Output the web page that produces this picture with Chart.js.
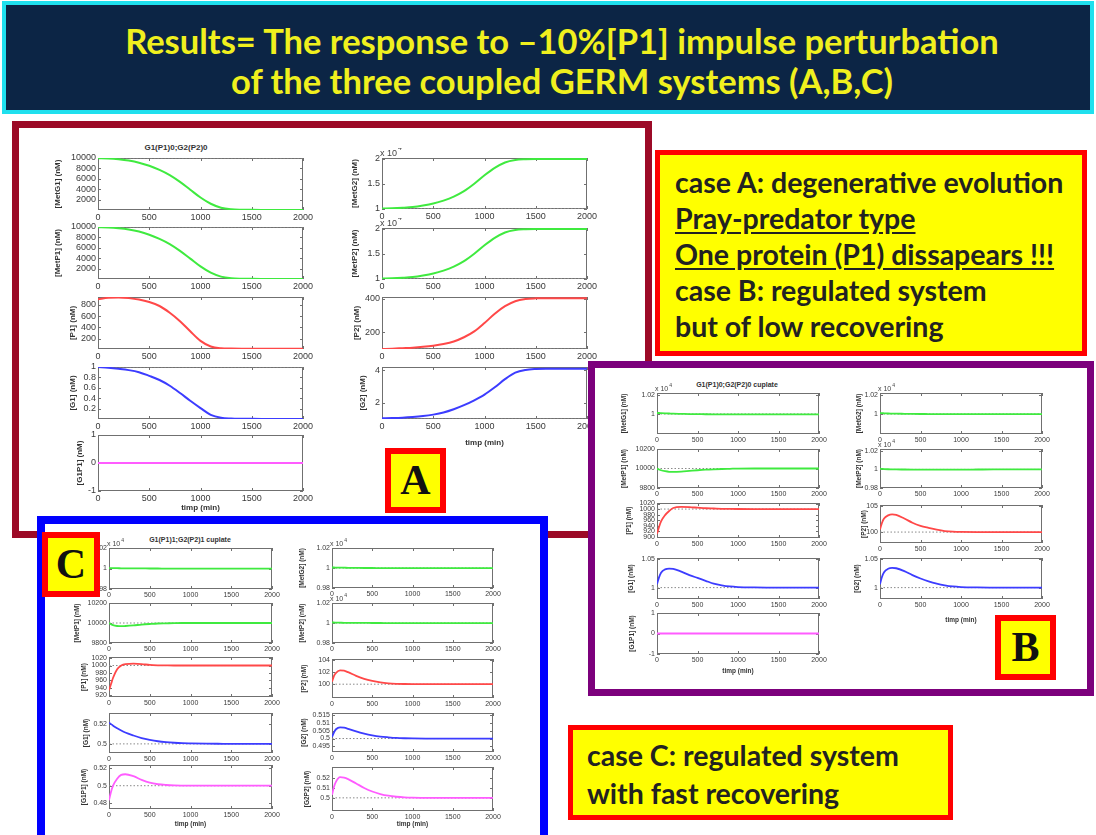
<!DOCTYPE html>
<html>
<head>
<meta charset="utf-8">
<title>GERM systems - impulse response</title>
<script src="https://cdn.jsdelivr.net/npm/chart.js"></script>
<style>
body{margin:0;width:1096px;height:835px;overflow:hidden;background:#fff;position:relative;font-family:'Liberation Sans',Arial,sans-serif}
.abs{position:absolute;box-sizing:border-box}
#banner{left:2px;top:1px;width:1092px;height:113px;background:#0c2545;border:4px solid #1fe0ee;color:#f0f01e;font:700 34.5px Lato,sans-serif;text-align:center;line-height:40px;padding:16px 0 0 28px;white-space:nowrap}
.panel{background:#fff}
.tag{background:#ffff00;border:6px solid #ff0000;font:700 42px 'Liberation Serif',serif;text-align:center;color:#111}
.note{background:#ffff00;border:5px solid #ff0000;font:700 28.5px Lato,sans-serif;color:#222;white-space:nowrap}
.note u{text-underline-offset:3px}
.ptitle{position:absolute;font-weight:700;color:#333;transform:translate(-50%,-50%);white-space:nowrap}
canvas{position:absolute}
</style>
</head>
<body>
<div id="banner" class="abs">Results= The response to –10%[P1] impulse perturbation<br>of the three coupled GERM systems (A,B,C)</div>
<script>
// time axis
const xTicks = [0, 500, 1000, 1500, 2000];
const tA = [0,100,200,300,400,500,600,700,800,900,1000,1100,1200,1300,1400,1500,1600,1700,1800,1900,2000];
const tB = [0,25,50,100,150,200,300,400,500,600,700,800,900,1000,1200,1400,1600,1800,2000];
const tFlat = [0, 2000];

// A: G1(P1)0;G2(P2)0
const aMetG1 = [9950,9900,9750,9500,9100,8500,7700,6700,5400,3900,2400,1200,450,150,60,30,20,20,20,20,20];
const aMetP1 = [9950,9900,9760,9520,9120,8520,7720,6720,5420,3920,2420,1210,460,150,60,30,20,20,20,20,20];
const aP1 = [900,925,930,920,895,850,780,660,510,330,160,60,28,22,20,20,20,20,20,20,20];
const aG1 = [1.0,0.985,0.965,0.94,0.9,0.83,0.75,0.64,0.5,0.35,0.21,0.08,0.025,0.01,0.005,0.003,0.002,0.002,0.002,0.002,0.002];
const aG1P1 = [0, 0];
const aMetG2 = [10000,10050,10150,10300,10600,11000,11600,12400,13500,15000,16700,18200,19300,19800,19950,20000,20000,20000,20000,20000,20000];
const aMetP2 = [10000,10050,10150,10300,10600,11000,11600,12400,13500,15000,16700,18200,19300,19800,19950,20000,20000,20000,20000,20000,20000];
const aP2 = [100,102,105,108,113,120,130,145,170,205,255,310,355,385,398,402,403,403,403,403,403];
const aG2 = [1.05,1.06,1.08,1.12,1.18,1.27,1.4,1.6,1.85,2.15,2.5,2.95,3.45,3.85,4.02,4.08,4.1,4.1,4.1,4.1,4.1];

// B: G1(P1)0;G2(P2)0 cuplate
const bMetG1 = [10010,10010,10009,10007,10005,10003,10001,9999,9998,9997,9996,9995,9995,9995,9995,9995,9995,9995,9995];
const bMetP1 = [10000,9990,9982,9972,9966,9965,9968,9975,9982,9988,9992,9995,9997,9999,10000,10000,10000,10000,10000];
const bP1 = [910,935,955,978,993,1004,1008,1007,1005,1003,1002,1001,1000.5,1000.2,1000,1000,1000,1000,1000];
const bG1 = [1.006,1.018,1.026,1.032,1.0335,1.033,1.028,1.022,1.017,1.012,1.007,1.004,1.002,1.001,1.0003,1.0001,1,1,1];
const bG1P1 = [0, 0];
const bMetG2 = [10008,10008,10007,10005,10004,10003,10002,10001,10000,9999,9998,9998,9998,9998,9998,9998,9998,9998,9998];
const bMetP2 = [10008,10006,10004,10002,10001,10000,9999,9998,9997,9997,9997,9997,9997,9998,9999,10000,10000,10000,10000];
const bP2 = [100.5,101.8,102.6,103.2,103.4,103.3,102.6,101.8,101.2,100.8,100.45,100.2,100.08,100.03,100,100,100,100,100];
const bG2 = [1.006,1.019,1.027,1.033,1.0345,1.034,1.029,1.022,1.016,1.011,1.007,1.004,1.002,1.001,1.0003,1.0001,1,1,1];

// C: G1(P1)1;G2(P2)1 cuplate
const cMetG1 = [10004,10004,10003,10003,10002,10002,10001,10001,10000,10000,9999,9999,9999,9999,9999,9999,9999,9999,9999];
const cMetP1 = [10000,9988,9978,9970,9968,9970,9976,9984,9990,9995,9997,9999,10000,10000,10000,10000,10000,10000,10000];
const cP1 = [933,950,967,990,1000,1004,1005,1004,1001.5,1000.5,1000.2,1000,1000,1000,1000,1000,1000,1000,1000];
const cG1 = [0.521,0.5195,0.518,0.5155,0.5132,0.5112,0.5083,0.5058,0.504,0.5026,0.5017,0.5011,0.5007,0.5005,0.5002,0.5001,0.5,0.5,0.5];
const cG1P1 = [0.483,0.493,0.5,0.508,0.5125,0.5133,0.511,0.5068,0.5035,0.5017,0.5008,0.5003,0.5001,0.5,0.5,0.5,0.5,0.5,0.5];
const cMetG2 = [10005,10005,10004,10004,10003,10002,10001,10000,10000,9999,9999,9998,9998,9998,9998,9998,9998,9998,9998];
const cMetP2 = [10006,10005,10004,10003,10002,10002,10001,10001,10000,10000,9999,9999,9998,9998,9998,9998,9998,9998,9998];
const cP2 = [100.4,101.4,101.9,102.3,102.25,102.0,101.4,100.9,100.55,100.3,100.15,100.07,100.03,100.01,100,100,100,100,100];
const cG2 = [0.501,0.504,0.506,0.5072,0.507,0.5063,0.5046,0.5032,0.5021,0.5013,0.5008,0.5004,0.5002,0.5001,0.5,0.5,0.5,0.5,0.5];
const cG2P2 = [0.503,0.511,0.516,0.5205,0.52,0.5185,0.5142,0.5098,0.5063,0.5038,0.5021,0.5011,0.5005,0.5002,0.5,0.5,0.5,0.5,0.5];

// y tick values
const tkMet = [2000,4000,6000,8000,10000];
const tkP1a = [200,400,600,800];
const tkG1a = [0.2,0.4,0.6,0.8,1];
const tkCpx = [-1,0,1];
const tkMetE4 = [10000,15000,20000];
const tkP2a = [200,400];
const tkG2a = [2,4];
const tkE4hi = [10000,10200];
const tkE4 = [9800,10000,10200];
const tkP1b = [900,920,940,960,980,1000,1020];
const tkG105 = [1,1.05];
const tkP2b = [100,105];
const tkP1c = [920,940,960,980,1000,1020];
const tkG1c = [0.5,0.52];
const tkG1P1c = [0.48,0.5,0.52];
const tkP2c = [100,102,104];
const tkG2c = [0.495,0.5,0.505,0.51,0.515];
const tkG2P2c = [0.5,0.51,0.52];

const GREEN = '#3fea3f', RED = '#ff4848', BLUE = '#3c3cff', MAGENTA = '#ff5cff';

// matlab-like box with inward ticks, plus the "x 10^4" exponent
const frame = {
  id: 'frame',
  beforeDatasetsDraw(chart, args, o) {
    const {ctx, chartArea: a, scales: {x, y}} = chart;
    ctx.save();
    ctx.strokeStyle = '#707070';
    ctx.lineWidth = 1;
    ctx.strokeRect(a.left + 0.5, a.top + 0.5, a.width - 1, a.height - 1);
    ctx.beginPath();
    x.ticks.forEach(t => {
      const p = Math.round(x.getPixelForValue(t.value)) + 0.5;
      ctx.moveTo(p, a.bottom); ctx.lineTo(p, a.bottom - 3);
      ctx.moveTo(p, a.top); ctx.lineTo(p, a.top + 3);
    });
    y.ticks.forEach(t => {
      const p = Math.round(y.getPixelForValue(t.value)) + 0.5;
      ctx.moveTo(a.left, p); ctx.lineTo(a.left + 3, p);
      ctx.moveTo(a.right, p); ctx.lineTo(a.right - 3, p);
    });
    ctx.stroke();
    ctx.restore();
  },
  afterDraw(chart, args, o) {
    if (!o.expo) return;
    const {ctx, chartArea: a} = chart;
    ctx.save();
    ctx.fillStyle = '#444';
    ctx.font = o.size + 'px "Liberation Sans", Arial';
    ctx.fillText('x 10', a.left - 2, a.top - 2);
    const w = ctx.measureText('x 10').width;
    ctx.font = (o.size - 2) + 'px "Liberation Sans", Arial';
    ctx.fillText('4', a.left - 1 + w, a.top - o.size + 1);
    ctx.restore();
  }
};
Chart.register(frame);

const num = v => String(parseFloat(v.toFixed(4)));

function plot(p, st) {
  const T = 10, R = 14, B = p.xt ? p.xb : 14, k = p.k || 1;
  const cv = document.createElement('canvas');
  cv.width = p.yw + p.w + R;
  cv.height = T + p.h + B;
  cv.style.left = (p.x - p.yw) + 'px';
  cv.style.top = (p.y - T) + 'px';
  document.body.appendChild(cv);
  const tickFont = {family: "'Liberation Sans', Arial", size: st.tick};
  const labFont = {family: "'Liberation Sans', Arial", size: st.lab, weight: 'bold'};
  const sets = [{data: p.t.map((x, i) => ({x: x, y: p.v[i]})), borderColor: p.c, borderWidth: st.lw,
                 cubicInterpolationMode: 'monotone'}];
  if (p.ref !== undefined)
    sets.push({data: tFlat.map(x => ({x: x, y: p.ref})), borderColor: '#8a8a8a', borderWidth: 1, borderDash: [1.5, 2]});
  new Chart(cv, {
    type: 'line',
    data: {datasets: sets},
    options: {
      responsive: false, animation: false, devicePixelRatio: 1,
      layout: {padding: {top: T, right: R, left: 0, bottom: 0}},
      elements: {point: {radius: 0}},
      plugins: {legend: {display: false}, tooltip: {enabled: false}, frame: {expo: !!p.k, size: st.tick}},
      scales: {
        x: {type: 'linear', min: 0, max: 2000, grid: {display: false, drawTicks: false}, border: {display: false},
            ticks: {font: tickFont, color: '#3a3a3a', padding: 2, maxRotation: 0, autoSkip: false, callback: v => String(v)},
            afterBuildTicks: s => { s.ticks = xTicks.map(v => ({value: v})); },
            afterFit: s => { s.height = B; },
            title: {display: !!p.xt, text: 'timp (min)', font: labFont, color: '#333', padding: 0}},
        y: {type: 'linear', min: p.min, max: p.max, grid: {display: false, drawTicks: false}, border: {display: false},
            ticks: {font: tickFont, color: '#3a3a3a', padding: 2, autoSkip: false, callback: v => num(v / k)},
            afterBuildTicks: s => { s.ticks = p.yt.map(v => ({value: v})); },
            afterFit: s => { s.width = p.yw; },
            title: {display: true, text: p.lab, font: labFont, color: '#333', padding: 0}}
      }
    }
  });
}

function box(cls, l, t, w, h, extra, html) {
  const d = document.createElement('div');
  d.className = 'abs ' + cls;
  d.style.cssText = 'left:' + l + 'px;top:' + t + 'px;width:' + w + 'px;height:' + h + 'px;' + (extra || '');
  if (html) d.innerHTML = html;
  document.body.appendChild(d);
  return d;
}

function heading(text, cx, cy, size) {
  const d = document.createElement('div');
  d.className = 'ptitle';
  d.style.cssText = 'left:' + cx + 'px;top:' + cy + 'px;font-size:' + size + 'px';
  d.textContent = text;
  document.body.appendChild(d);
}

const stA = {tick: 9, lab: 8, lw: 2};
const stBC = {tick: 7, lab: 6.5, lw: 1.8};

// panel A
box('panel', 12, 121, 640, 417, 'border:7px solid #9c0a27');
heading('G1(P1)0;G2(P2)0', 176, 147, 8);
[
  {x: 98, y: 158, w: 205, h: 52, yw: 45, t: tA, v: aMetG1, c: GREEN, lab: '[MetG1] (nM)', min: 0, max: 10000, yt: tkMet, ref: 10000},
  {x: 98, y: 227, w: 205, h: 52, yw: 45, t: tA, v: aMetP1, c: GREEN, lab: '[MetP1] (nM)', min: 0, max: 10000, yt: tkMet, ref: 10000},
  {x: 98, y: 297, w: 205, h: 52, yw: 30, t: tA, v: aP1, c: RED, lab: '[P1] (nM)', min: 15, max: 940, yt: tkP1a},
  {x: 98, y: 367, w: 205, h: 52, yw: 30, t: tA, v: aG1, c: BLUE, lab: '[G1] (nM)', min: 0, max: 1, yt: tkG1a, ref: 1},
  {x: 98, y: 435, w: 205, h: 56, yw: 23, t: tFlat, v: aG1P1, c: MAGENTA, lab: '[G1P1] (nM)', min: -1, max: 1, yt: tkCpx, xt: 1, xb: 22},
  {x: 382, y: 158, w: 205, h: 51, yw: 32, t: tA, v: aMetG2, c: GREEN, lab: '[MetG2] (nM)', min: 9900, max: 20200, yt: tkMetE4, ref: 10000, k: 1e4},
  {x: 382, y: 228, w: 205, h: 51, yw: 32, t: tA, v: aMetP2, c: GREEN, lab: '[MetP2] (nM)', min: 9900, max: 20200, yt: tkMetE4, ref: 10000, k: 1e4},
  {x: 382, y: 297, w: 205, h: 52, yw: 30, t: tA, v: aP2, c: RED, lab: '[P2] (nM)', min: 100, max: 410, yt: tkP2a, ref: 100},
  {x: 382, y: 367, w: 205, h: 52, yw: 24, t: tA, v: aG2, c: BLUE, lab: '[G2] (nM)', min: 1, max: 4.2, yt: tkG2a, ref: 1, xt: 1, xb: 29}
].forEach(p => plot(p, stA));
box('tag', 385, 448, 61, 65, 'line-height:53px', 'A');

// panel B
box('panel', 588, 361, 506, 335, 'border:7px solid #7c007c');
heading('G1(P1)0;G2(P2)0 cuplate', 737, 384, 7);
[
  {x: 657, y: 393, w: 162, h: 41, yw: 37, t: tB, v: bMetG1, c: GREEN, lab: '[MetG1] (nM)', min: 9790, max: 10220, yt: tkE4hi, ref: 10000, k: 1e4},
  {x: 657, y: 449, w: 162, h: 39, yw: 37, t: tB, v: bMetP1, c: GREEN, lab: '[MetP1] (nM)', min: 9800, max: 10200, yt: tkE4, ref: 10000},
  {x: 657, y: 503, w: 162, h: 35, yw: 32, t: tB, v: bP1, c: RED, lab: '[P1] (nM)', min: 895, max: 1022, yt: tkP1b, ref: 1000},
  {x: 657, y: 558, w: 162, h: 41, yw: 30, t: tB, v: bG1, c: BLUE, lab: '[G1] (nM)', min: 0.98, max: 1.052, yt: tkG105, ref: 1},
  {x: 657, y: 613, w: 162, h: 41, yw: 29, t: tFlat, v: bG1P1, c: MAGENTA, lab: '[G1P1] (nM)', min: -1, max: 1, yt: tkCpx, xt: 1, xb: 21},
  {x: 880, y: 393, w: 162, h: 41, yw: 25, t: tB, v: bMetG2, c: GREEN, lab: '[MetG2] (nM)', min: 9790, max: 10220, yt: tkE4hi, ref: 10000, k: 1e4},
  {x: 880, y: 449, w: 162, h: 39, yw: 25, t: tB, v: bMetP2, c: GREEN, lab: '[MetP2] (nM)', min: 9800, max: 10220, yt: tkE4, ref: 10000, k: 1e4},
  {x: 880, y: 505, w: 162, h: 38, yw: 20, t: tB, v: bP2, c: RED, lab: '[P2] (nM)', min: 97.9, max: 105.2, yt: tkP2b, ref: 100},
  {x: 880, y: 558, w: 162, h: 41, yw: 27, t: tB, v: bG2, c: BLUE, lab: '[G2] (nM)', min: 0.98, max: 1.052, yt: tkG105, ref: 1, xt: 1, xb: 25}
].forEach(p => plot(p, stBC));
box('tag', 995, 615, 61, 65, 'line-height:53px', 'B');

// panel C
box('panel', 37, 516, 511, 340, 'border:8px solid #0000ff');
heading('G1(P1)1;G2(P2)1 cuplate', 190, 539, 7);
[
  {x: 109, y: 548, w: 163, h: 41, yw: 36, t: tB, v: cMetG1, c: GREEN, lab: '[MetG1] (nM)', min: 9800, max: 10200, yt: tkE4, ref: 10000, k: 1e4},
  {x: 109, y: 603, w: 163, h: 40, yw: 36, t: tB, v: cMetP1, c: GREEN, lab: '[MetP1] (nM)', min: 9800, max: 10200, yt: tkE4, ref: 10000},
  {x: 109, y: 657, w: 163, h: 40, yw: 29, t: tB, v: cP1, c: RED, lab: '[P1] (nM)', min: 915, max: 1023, yt: tkP1c, ref: 1000},
  {x: 109, y: 713, w: 163, h: 40, yw: 27, t: tB, v: cG1, c: BLUE, lab: '[G1] (nM)', min: 0.491, max: 0.5305, yt: tkG1c, ref: 0.5},
  {x: 109, y: 765, w: 163, h: 44, yw: 29, t: tB, v: cG1P1, c: MAGENTA, lab: '[G1P1] (nM)', min: 0.473, max: 0.524, yt: tkG1P1c, ref: 0.5, xt: 1, xb: 19},
  {x: 332, y: 548, w: 161, h: 40, yw: 34, t: tB, v: cMetG2, c: GREEN, lab: '[MetG2] (nM)', min: 9800, max: 10200, yt: tkE4, ref: 10000, k: 1e4},
  {x: 332, y: 603, w: 161, h: 40, yw: 34, t: tB, v: cMetP2, c: GREEN, lab: '[MetP2] (nM)', min: 9800, max: 10200, yt: tkE4, ref: 10000, k: 1e4},
  {x: 332, y: 659, w: 161, h: 39, yw: 32, t: tB, v: cP2, c: RED, lab: '[P2] (nM)', min: 97.7, max: 104.2, yt: tkP2c, ref: 100},
  {x: 332, y: 713, w: 161, h: 39, yw: 32, t: tB, v: cG2, c: BLUE, lab: '[G2] (nM)', min: 0.4913, max: 0.5165, yt: tkG2c, ref: 0.5},
  {x: 332, y: 767, w: 161, h: 44, yw: 29, t: tB, v: cG2P2, c: MAGENTA, lab: '[G2P2] (nM)', min: 0.487, max: 0.5305, yt: tkG2P2c, ref: 0.5, xt: 1, xb: 17}
].forEach(p => plot(p, stBC));
box('tag', 42, 532, 58, 65, 'line-height:53px', 'C');

// comments on the right
box('note', 655, 150, 432, 206, 'line-height:36px;padding:9px 0 0 15px',
  'case A: degenerative evolution<br><u>Pray-predator type</u><br><u>One protein (P1) dissapears !!!</u><br>case B: regulated system<br>but of low recovering');
box('note', 568, 725, 385, 95, 'line-height:38px;padding:6px 0 0 14px',
  'case C: regulated system<br>with fast recovering');
</script>
</body>
</html>
